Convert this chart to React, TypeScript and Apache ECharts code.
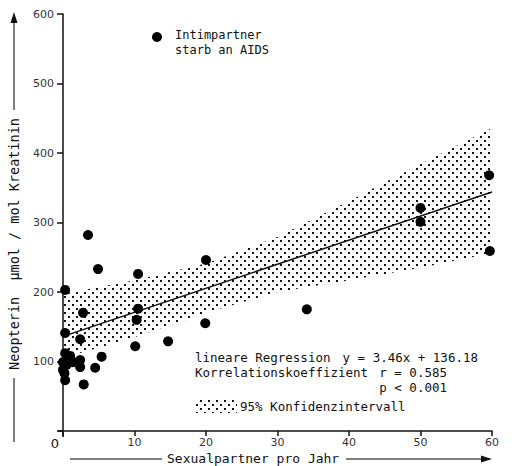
import React, { useEffect, useRef } from 'react';
import * as echarts from 'echarts';

// ---- data ----
const xTickValues = [0, 10, 20, 30, 40, 50, 60];
const yTickValues = [0, 100, 200, 300, 400, 500, 600];

const pointsX = [0.3, 3.5, 4.9, 10.5, 2.8, 10.5, 10.3, 0.3, 2.4, 14.7, 10.1, 5.4, 4.5, 2.9, 20.0, 19.9, 34.1, 50.0, 50.0, 59.6, 59.7, 0.3, 1.0, 0.0, 0.5, 2.4, 2.4, 1.4, 0.2, 0.3, 0.0];
const pointsY = [203, 282, 233, 226, 170, 176, 160, 141, 132, 129, 122, 107, 91, 67, 246, 155, 175, 321, 301, 368, 259, 112, 108, 99, 95, 102, 92, 99, 83, 73, 88];

const regX = [0, 60];
const regY = [136.18, 343.78];

const bandX = [0, 10, 20, 30, 40, 50, 60];
const bandUpper = [197, 217, 241, 279, 331, 384, 436];
const bandLower = [105, 135, 170, 200, 217, 235, 256];

const legendLines = ['Intimpartner', 'starb an AIDS'];
const statsLeft = ['lineare Regression', 'Korrelationskoeffizient'];
const statsRight = ['y = 3.46x + 136.18', 'r = 0.585', 'p < 0.001'];
const bandLabel = '95% Konfidenzintervall';
const xName = 'Sexualpartner pro Jahr';
const yName = 'Neopterin  µmol / mol Kreatinin';

const MONO = '"DejaVu Sans Mono", "Liberation Mono", monospace';
const TICKFONT = '"DejaVu Sans", "Noto Sans", sans-serif';

export default function App() {
  const ref = useRef<HTMLDivElement>(null);

  useEffect(() => {
    if (!ref.current) return;
    const chart = echarts.init(ref.current, undefined, { renderer: 'svg' });

    const c = document.createElement('canvas');
    c.width = 8;
    c.height = 8;
    const ctx = c.getContext('2d')!;
    ctx.fillStyle = '#111';
    ctx.fillRect(0, 0, 2, 2);
    ctx.fillRect(4, 4, 2, 2);
    const pattern: any = { image: c.toDataURL(), repeat: 'repeat', imageWidth: 8, imageHeight: 8 };

    const scatterData = pointsX.map((x, i) => [x, pointsY[i]]);
    const regData = regX.map((x, i) => [x, regY[i]]);

    const option: any = {
      animation: false,
      backgroundColor: '#ffffff',
      grid: { left: 63, right: 26, top: 14, bottom: 35, containLabel: false },
      xAxis: {
        type: 'value',
        min: 0,
        max: 60,
        interval: 10,
        splitLine: { show: false },
        axisLine: { show: true, onZero: false, lineStyle: { color: '#111', width: 1.5 } },
        axisTick: { show: true, length: 5, lineStyle: { color: '#111', width: 1.5 } },
        axisLabel: {
          margin: 6,
          color: '#333',
          fontFamily: TICKFONT,
          fontSize: 11,
          formatter: (v: number) => (v === 0 ? '{o|0}' : String(v)),
          rich: { o: { fontSize: 13, fontFamily: TICKFONT, color: '#111', padding: [0, 16, 0, 0] } },
        },
      },
      yAxis: {
        type: 'value',
        min: 0,
        max: 600,
        interval: 100,
        splitLine: { show: false },
        axisLine: { show: true, onZero: false, lineStyle: { color: '#111', width: 1.5 } },
        axisTick: { show: true, length: 6, lineStyle: { color: '#111', width: 1.5 } },
        axisLabel: {
          margin: 9,
          color: '#333',
          fontFamily: TICKFONT,
          fontSize: 11,
          formatter: (v: number) => (v === 0 ? '' : String(v)),
        },
      },
      series: [
        {
          type: 'custom',
          name: 'band',
          silent: true,
          z: 1,
          data: [[0, 0]],
          renderItem: (_p: any, api: any) => {
            const pts: number[][] = [];
            for (let i = 0; i < bandX.length; i++) pts.push(api.coord([bandX[i], bandUpper[i]]));
            for (let i = bandX.length - 1; i >= 0; i--) pts.push(api.coord([bandX[i], bandLower[i]]));
            return { type: 'polygon', shape: { points: pts }, style: { fill: pattern, stroke: null } };
          },
        },
        {
          type: 'line',
          name: 'Regression',
          data: regData,
          symbol: 'none',
          z: 3,
          lineStyle: { color: '#111', width: 1.5 },
        },
        {
          type: 'scatter',
          name: 'Intimpartner starb an AIDS',
          data: scatterData,
          symbol: 'circle',
          symbolSize: 10,
          z: 4,
          itemStyle: { color: '#000', opacity: 1 },
        },
      ],
      graphic: [
        // legend
        { type: 'circle', shape: { cx: 157, cy: 37, r: 5 }, style: { fill: '#000' } },
        { type: 'text', x: 175, y: 35, style: { text: legendLines[0], font: `12px ${MONO}`, fill: '#111', verticalAlign: 'middle' } },
        { type: 'text', x: 175, y: 50, style: { text: legendLines[1], font: `12px ${MONO}`, fill: '#111', verticalAlign: 'middle' } },
        // statistics
        { type: 'text', x: 195, y: 357, style: { text: statsLeft[0], font: `12.5px ${MONO}`, fill: '#111', verticalAlign: 'middle' } },
        { type: 'text', x: 195, y: 372, style: { text: statsLeft[1], font: `12.5px ${MONO}`, fill: '#111', verticalAlign: 'middle' } },
        { type: 'text', x: 478, y: 357, style: { text: statsRight[0], font: `12.5px ${MONO}`, fill: '#111', align: 'right', verticalAlign: 'middle' } },
        { type: 'text', x: 447, y: 372, style: { text: statsRight[1], font: `12.5px ${MONO}`, fill: '#111', align: 'right', verticalAlign: 'middle' } },
        { type: 'text', x: 447, y: 387, style: { text: statsRight[2], font: `12.5px ${MONO}`, fill: '#111', align: 'right', verticalAlign: 'middle' } },
        // band legend
        { type: 'rect', shape: { x: 195, y: 400, width: 42, height: 13 }, style: { fill: pattern } },
        { type: 'text', x: 240, y: 406, style: { text: bandLabel, font: `12.5px ${MONO}`, fill: '#111', verticalAlign: 'middle' } },
        // axis stubs at origin
        { type: 'line', shape: { x1: 58, y1: 431, x2: 63, y2: 431 }, style: { stroke: '#111', lineWidth: 1.5 } },
        { type: 'line', shape: { x1: 63, y1: 431, x2: 63, y2: 437 }, style: { stroke: '#111', lineWidth: 1.5 } },
        // y axis name
        { type: 'line', shape: { x1: 14, y1: 442, x2: 14, y2: 378 }, style: { stroke: '#555', lineWidth: 1.5 } },
        {
          type: 'text', x: 14, y: 244, rotation: Math.PI / 2,
          style: { text: yName, font: `13.5px ${MONO}`, fill: '#111', align: 'center', verticalAlign: 'middle' },
        },
        { type: 'line', shape: { x1: 14, y1: 110, x2: 14, y2: 20 }, style: { stroke: '#555', lineWidth: 1.5 } },
        { type: 'polygon', shape: { points: [[14, 12], [10.5, 23], [17.5, 23]] }, style: { fill: '#111' } },
        // x axis name
        { type: 'line', shape: { x1: 70, y1: 459, x2: 162, y2: 459 }, style: { stroke: '#555', lineWidth: 1.5 } },
        { type: 'text', x: 167, y: 458, style: { text: xName, font: `13px ${MONO}`, fill: '#111', verticalAlign: 'middle' } },
        { type: 'line', shape: { x1: 346, y1: 459, x2: 484, y2: 459 }, style: { stroke: '#555', lineWidth: 1.5 } },
        { type: 'polygon', shape: { points: [[492, 459], [481, 455.5], [481, 462.5]] }, style: { fill: '#111' } },
      ],
    };

    chart.setOption(option);
    return () => chart.dispose();
  }, []);

  return <div ref={ref} style={{ position: 'fixed', left: 0, top: 0, width: 518, height: 466 }} />;
}
